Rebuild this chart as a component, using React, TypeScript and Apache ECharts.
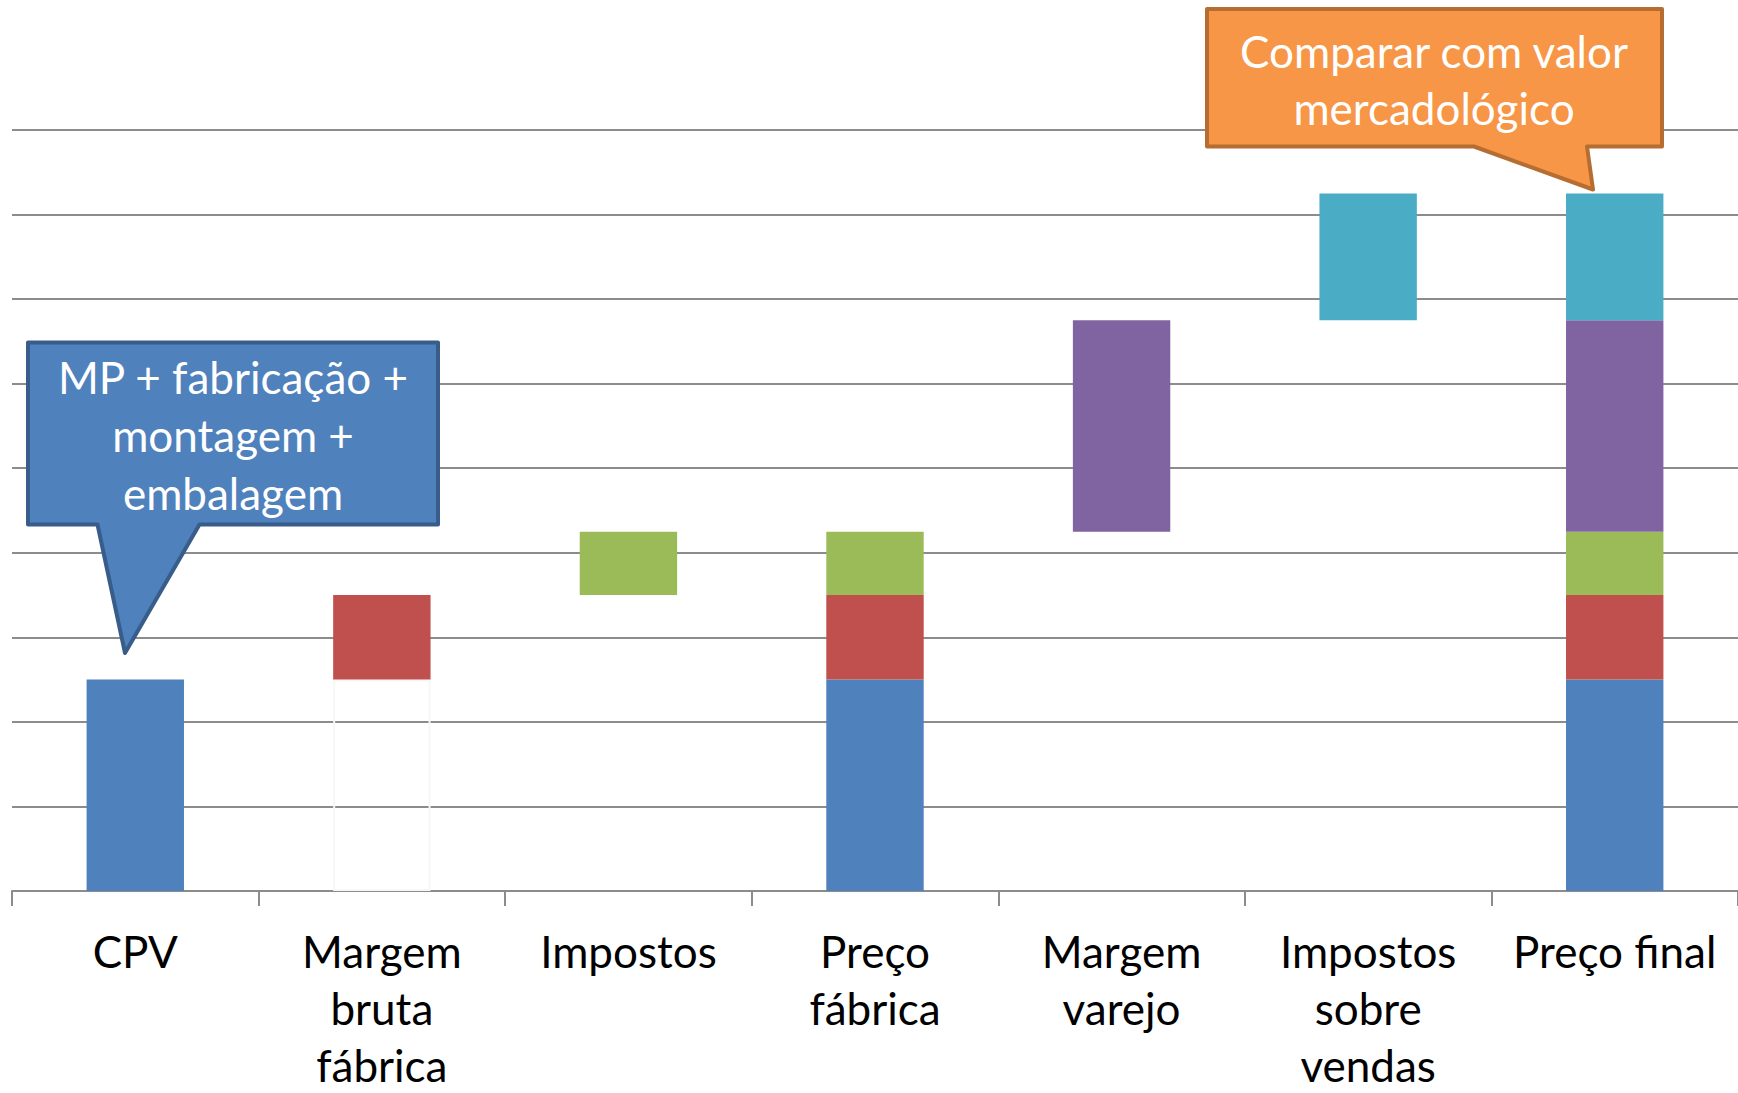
import React, { useEffect, useRef } from "react";
import * as echarts from "echarts";

const categories = [
  "CPV",
  "Margem\nbruta\nfábrica",
  "Impostos",
  "Preço\nfábrica",
  "Margem\nvarejo",
  "Impostos\nsobre\nvendas",
  "Preço final",
];

// invisible base of the floating (waterfall) bars
const baseValues = [0, 2.5, 3.5, 0, 4.25, 6.75, 0];
const cpvValues = [2.5, 0, 0, 2.5, 0, 0, 2.5];
const margemBrutaValues = [0, 1, 0, 1, 0, 0, 1];
const impostosValues = [0, 0, 0.75, 0.75, 0, 0, 0.75];
const margemVarejoValues = [0, 0, 0, 0, 2.5, 0, 2.5];
const impostosVendasValues = [0, 0, 0, 0, 0, 1.5, 1.5];

const yTicks = { min: 0, max: 9, interval: 1 };

const FONT = "Lato, 'Open Sans', sans-serif";

export default function App() {
  const ref = useRef<HTMLDivElement>(null);

  useEffect(() => {
    if (!ref.current) return;
    const chart = echarts.init(ref.current, undefined, { renderer: "svg" });

    const stackSeries = (name: string, data: number[], color: string) => ({
      name,
      type: "bar",
      stack: "total",
      barWidth: "39.5%",
      data,
      itemStyle: { color },
      emphasis: { disabled: true },
    });

    const option: any = {
      animation: false,
      backgroundColor: "#ffffff",
      grid: { left: 12, right: 0, top: 130, bottom: 200, containLabel: false },
      xAxis: {
        type: "category",
        data: categories,
        boundaryGap: true,
        axisLine: { show: true, lineStyle: { color: "#8c8c8c", width: 2 } },
        axisTick: {
          show: true,
          length: 15,
          alignWithLabel: false,
          lineStyle: { color: "#8c8c8c", width: 2 },
        },
        axisLabel: {
          interval: 0,
          margin: 31,
          color: "#000000",
          fontFamily: FONT,
          fontSize: 44,
          lineHeight: 57,
        },
        splitLine: { show: false },
      },
      yAxis: {
        type: "value",
        min: yTicks.min,
        max: yTicks.max,
        interval: yTicks.interval,
        axisLine: { show: false },
        axisTick: { show: false },
        axisLabel: { show: false },
        splitLine: { show: true, lineStyle: { color: "#8c8c8c", width: 2 } },
      },
      series: [
        {
          name: "base",
          type: "bar",
          stack: "total",
          barWidth: "39.5%",
          silent: true,
          data: baseValues.map((v, i) =>
            i === 1
              ? { value: v, itemStyle: { color: "rgba(255,255,255,0)", borderColor: "#f7f7f7", borderWidth: 2 } }
              : { value: v, itemStyle: { color: "rgba(0,0,0,0)" } }
          ),
          itemStyle: { color: "rgba(0,0,0,0)" },
          emphasis: { disabled: true },
        },
        stackSeries("CPV", cpvValues, "#4F81BD"),
        stackSeries("Margem bruta", margemBrutaValues, "#C0504D"),
        stackSeries("Impostos", impostosValues, "#9BBB59"),
        stackSeries("Margem varejo", margemVarejoValues, "#8064A2"),
        stackSeries("Impostos sobre vendas", impostosVendasValues, "#4BACC6"),
      ],
      graphic: [
        {
          type: "polygon",
          z: 100,
          shape: {
            points: [
              [28, 342.5],
              [438, 342.5],
              [438, 524.5],
              [199.5, 524.5],
              [125, 653],
              [97.5, 524.5],
              [28, 524.5],
            ],
          },
          style: { fill: "#4F81BD", stroke: "#385D8A", lineWidth: 4, lineJoin: "round" },
        },
        {
          type: "text",
          z: 101,
          x: 233,
          y: 435,
          style: {
            text: "MP + fabricação +\nmontagem +\nembalagem",
            fill: "#ffffff",
            fontFamily: FONT,
            fontSize: 44,
            lineHeight: 58,
            align: "center",
            verticalAlign: "middle",
          },
        },
        {
          type: "polygon",
          z: 100,
          shape: {
            points: [
              [1207, 9],
              [1662, 9],
              [1662, 146.5],
              [1587, 146.5],
              [1593, 189.5],
              [1474, 146.5],
              [1207, 146.5],
            ],
          },
          style: { fill: "#F79646", stroke: "#B66D31", lineWidth: 4, lineJoin: "round" },
        },
        {
          type: "text",
          z: 101,
          x: 1434,
          y: 79,
          style: {
            text: "Comparar com valor\nmercadológico",
            fill: "#ffffff",
            fontFamily: FONT,
            fontSize: 44,
            lineHeight: 57,
            align: "center",
            verticalAlign: "middle",
          },
        },
      ],
    };

    chart.setOption(option);
    return () => chart.dispose();
  }, []);

  return (
    <div
      ref={ref}
      style={{ position: "fixed", left: 0, top: 0, width: 1738, height: 1093, background: "#fff" }}
    />
  );
}
